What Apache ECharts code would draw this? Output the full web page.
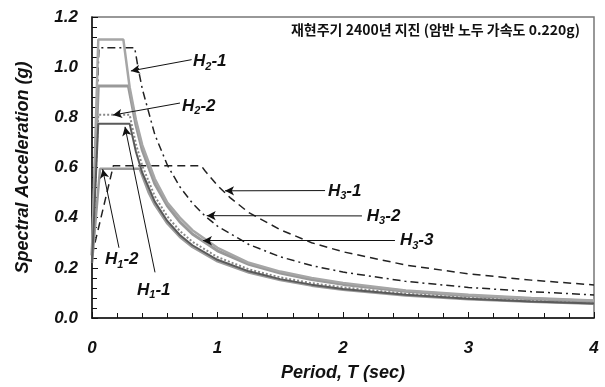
<!DOCTYPE html>
<html>
<head>
<meta charset="utf-8">
<script src="https://cdn.jsdelivr.net/npm/echarts@6/dist/echarts.min.js"></script>
<style>
html, body { margin: 0; padding: 0; background: #fff; }
#chart { width: 605px; height: 387px; }
</style>
</head>
<body>
<div id="chart"></div>
<script>
// tick labels
const xTicks = ['0', '1', '2', '3', '4']
const yTicks = ['0.0', '0.2', '0.4', '0.6', '0.8', '1.0', '1.2']
const titleText = '재현주기 2400년 지진 (암반 노두 가속도 0.220g)'

// [T (sec), Sa (g)]
const h11 = [[0, 0.22], [0.05, 0.774], [0.30, 0.774], [0.35, 0.663], [0.4, 0.58], [0.5, 0.464], [0.6, 0.387], [0.7, 0.331], [0.8, 0.29], [1.0, 0.232], [1.25, 0.186], [1.5, 0.155], [1.75, 0.133], [2.0, 0.116], [2.5, 0.093], [3.0, 0.077], [3.5, 0.066], [4.0, 0.058]]
const h12 = [[0, 0.22], [0.064, 0.595], [0.38, 0.595], [0.45, 0.502], [0.5, 0.452], [0.6, 0.377], [0.7, 0.323], [0.8, 0.283], [1.0, 0.226], [1.25, 0.181], [1.5, 0.151], [1.75, 0.129], [2.0, 0.113], [2.5, 0.09], [3.0, 0.075], [3.5, 0.065], [4.0, 0.057]]
const h21 = [[0, 0.25], [0.05, 1.11], [0.25, 1.11], [0.3, 0.92], [0.35, 0.79], [0.4, 0.69], [0.5, 0.555], [0.6, 0.46], [0.7, 0.40], [0.8, 0.35], [1.0, 0.28], [1.25, 0.22], [1.5, 0.185], [1.75, 0.16], [2.0, 0.14], [2.5, 0.11], [3.0, 0.093], [3.5, 0.08], [4.0, 0.07]]
const h22 = [[0, 0.24], [0.05, 0.81], [0.30, 0.81], [0.35, 0.694], [0.4, 0.608], [0.5, 0.486], [0.6, 0.405], [0.7, 0.347], [0.8, 0.304], [1.0, 0.243], [1.25, 0.194], [1.5, 0.162], [1.75, 0.139], [2.0, 0.122], [2.5, 0.097], [3.0, 0.081], [3.5, 0.069], [4.0, 0.061]]
const h31 = [[0, 0.25], [0.17, 0.607], [0.87, 0.607], [0.9, 0.587], [1.0, 0.528], [1.1, 0.48], [1.25, 0.42], [1.5, 0.352], [1.75, 0.30], [2.0, 0.264], [2.5, 0.211], [3.0, 0.176], [3.5, 0.151], [4.0, 0.132]]
const h32 = [[0, 0.25], [0.055, 1.077], [0.34, 1.077], [0.37, 0.99], [0.4, 0.915], [0.5, 0.732], [0.6, 0.61], [0.7, 0.523], [0.8, 0.458], [0.9, 0.407], [1.0, 0.366], [1.25, 0.293], [1.5, 0.244], [1.75, 0.209], [2.0, 0.183], [2.5, 0.146], [3.0, 0.122], [3.5, 0.105], [4.0, 0.092]]
const h33 = [[0, 0.25], [0.05, 0.925], [0.29, 0.925], [0.35, 0.77], [0.4, 0.67], [0.5, 0.535], [0.6, 0.447], [0.7, 0.383], [0.8, 0.335], [1.0, 0.268], [1.25, 0.214], [1.5, 0.179], [1.75, 0.153], [2.0, 0.134], [2.5, 0.107], [3.0, 0.089], [3.5, 0.077], [4.0, 0.067]]

const latin = "'Liberation Sans', Arial, sans-serif"
const labelRich = {
  h: { fontSize: 17, fontWeight: 'bold', fontStyle: 'italic', fontFamily: latin, color: '#111' },
  s: { fontSize: 11, fontWeight: 'bold', fontStyle: 'italic', fontFamily: latin, color: '#111', padding: [10, 0, 0, 0] }
}
const axisFont = { fontWeight: 'bold', fontStyle: 'italic', fontFamily: latin, color: '#111' }

// arrow from label to curve + the label itself
function callout(name, from, to, at) {
  const parts = name.split('-')
  return {
    markLine: {
      silent: true,
      symbol: ['none', 'arrow'],
      symbolSize: [7, 9],
      label: { show: false },
      lineStyle: { color: '#111', width: 1, type: 'solid' },
      data: [[{ coord: from }, { coord: to }]]
    },
    markPoint: {
      silent: true,
      symbolSize: 0,
      data: [{ coord: at }],
      label: {
        show: true,
        position: 'right',
        distance: 0,
        formatter: '{h|H}{s|' + parts[0].slice(1) + '}{h|-' + parts[1] + '}',
        rich: labelRich
      }
    }
  }
}

function curve(name, data, lineStyle, extra) {
  return Object.assign({
    name: name,
    type: 'line',
    data: data,
    showSymbol: false,
    silent: true,
    lineStyle: lineStyle,
    z: 2
  }, extra)
}

const chartInstance = echarts.init(document.getElementById('chart'))
const option = {
  animation: false,
  backgroundColor: '#fff',
  grid: {
    left: 92,
    right: 11,
    top: 17,
    bottom: 66,
    show: true,
    borderColor: '#777',
    borderWidth: 1.5
  },
  xAxis: {
    type: 'value',
    min: 0,
    max: 4,
    interval: 1,
    name: 'Period, T (sec)',
    nameLocation: 'middle',
    nameGap: 46,
    nameTextStyle: Object.assign({ fontSize: 18 }, axisFont),
    axisLine: { show: true, lineStyle: { color: '#111', width: 1.5 } },
    axisTick: { show: true, inside: true, length: 6, lineStyle: { color: '#111' } },
    minorTick: { show: true, splitNumber: 5, length: 5, lineStyle: { color: '#111' } },
    splitLine: { show: false },
    axisLabel: Object.assign({
      margin: 22,
      fontSize: 17,
      formatter: v => xTicks[Math.round(v)]
    }, axisFont)
  },
  yAxis: {
    type: 'value',
    min: 0,
    max: 1.2,
    interval: 0.2,
    name: 'Spectral Acceleration (g)',
    nameLocation: 'middle',
    nameGap: 60,
    nameTextStyle: Object.assign({ fontSize: 18 }, axisFont),
    axisLine: { show: true, lineStyle: { color: '#111', width: 1.5 } },
    axisTick: { show: true, inside: true, length: 6, lineStyle: { color: '#111' } },
    minorTick: { show: true, splitNumber: 5, length: 5, lineStyle: { color: '#111' } },
    splitLine: { show: false },
    axisLabel: Object.assign({
      margin: 14,
      fontSize: 17,
      formatter: v => yTicks[Math.round(v * 5)]
    }, axisFont)
  },
  graphic: [{
    type: 'text',
    right: 25,
    top: 23,
    style: {
      text: titleText,
      fontSize: 14,
      fontWeight: 'bold',
      fontFamily: "'Noto Sans CJK KR', sans-serif",
      fill: '#111'
    }
  }],
  series: [
    curve('H3-1', h31, { color: '#222', width: 1.5, type: [8, 5] },
      callout('H3-1', [1.857, 0.508], [1.06, 0.507], [1.88, 0.507])),
    curve('H3-2', h32, { color: '#222', width: 1.5, type: [8, 4, 2, 4] },
      callout('H3-2', [2.151, 0.407], [0.914, 0.408], [2.19, 0.405])),
    curve('H2-2', h22, { color: '#888', width: 2, type: 'dotted' },
      callout('H2-2', [0.701, 0.857], [0.167, 0.809], [0.717, 0.845])),
    curve('H3-3', h33, { color: '#999', width: 3 },
      callout('H3-3', [2.414, 0.308], [0.884, 0.308], [2.454, 0.308])),
    curve('H2-1', h21, { color: '#a6a6a6', width: 2.5 },
      callout('H2-1', [0.794, 1.03], [0.31, 0.985], [0.805, 1.022])),
    curve('H1-2', h12, { color: '#9a9a9a', width: 2.5 },
      callout('H1-2', [0.215, 0.28], [0.085, 0.593], [0.104, 0.233])),
    curve('H1-1', h11, { color: '#5a5a5a', width: 2 },
      callout('H1-1', [0.502, 0.182], [0.263, 0.762], [0.359, 0.111]))
  ]
}
chartInstance.setOption(option)
</script>
</body>
</html>
